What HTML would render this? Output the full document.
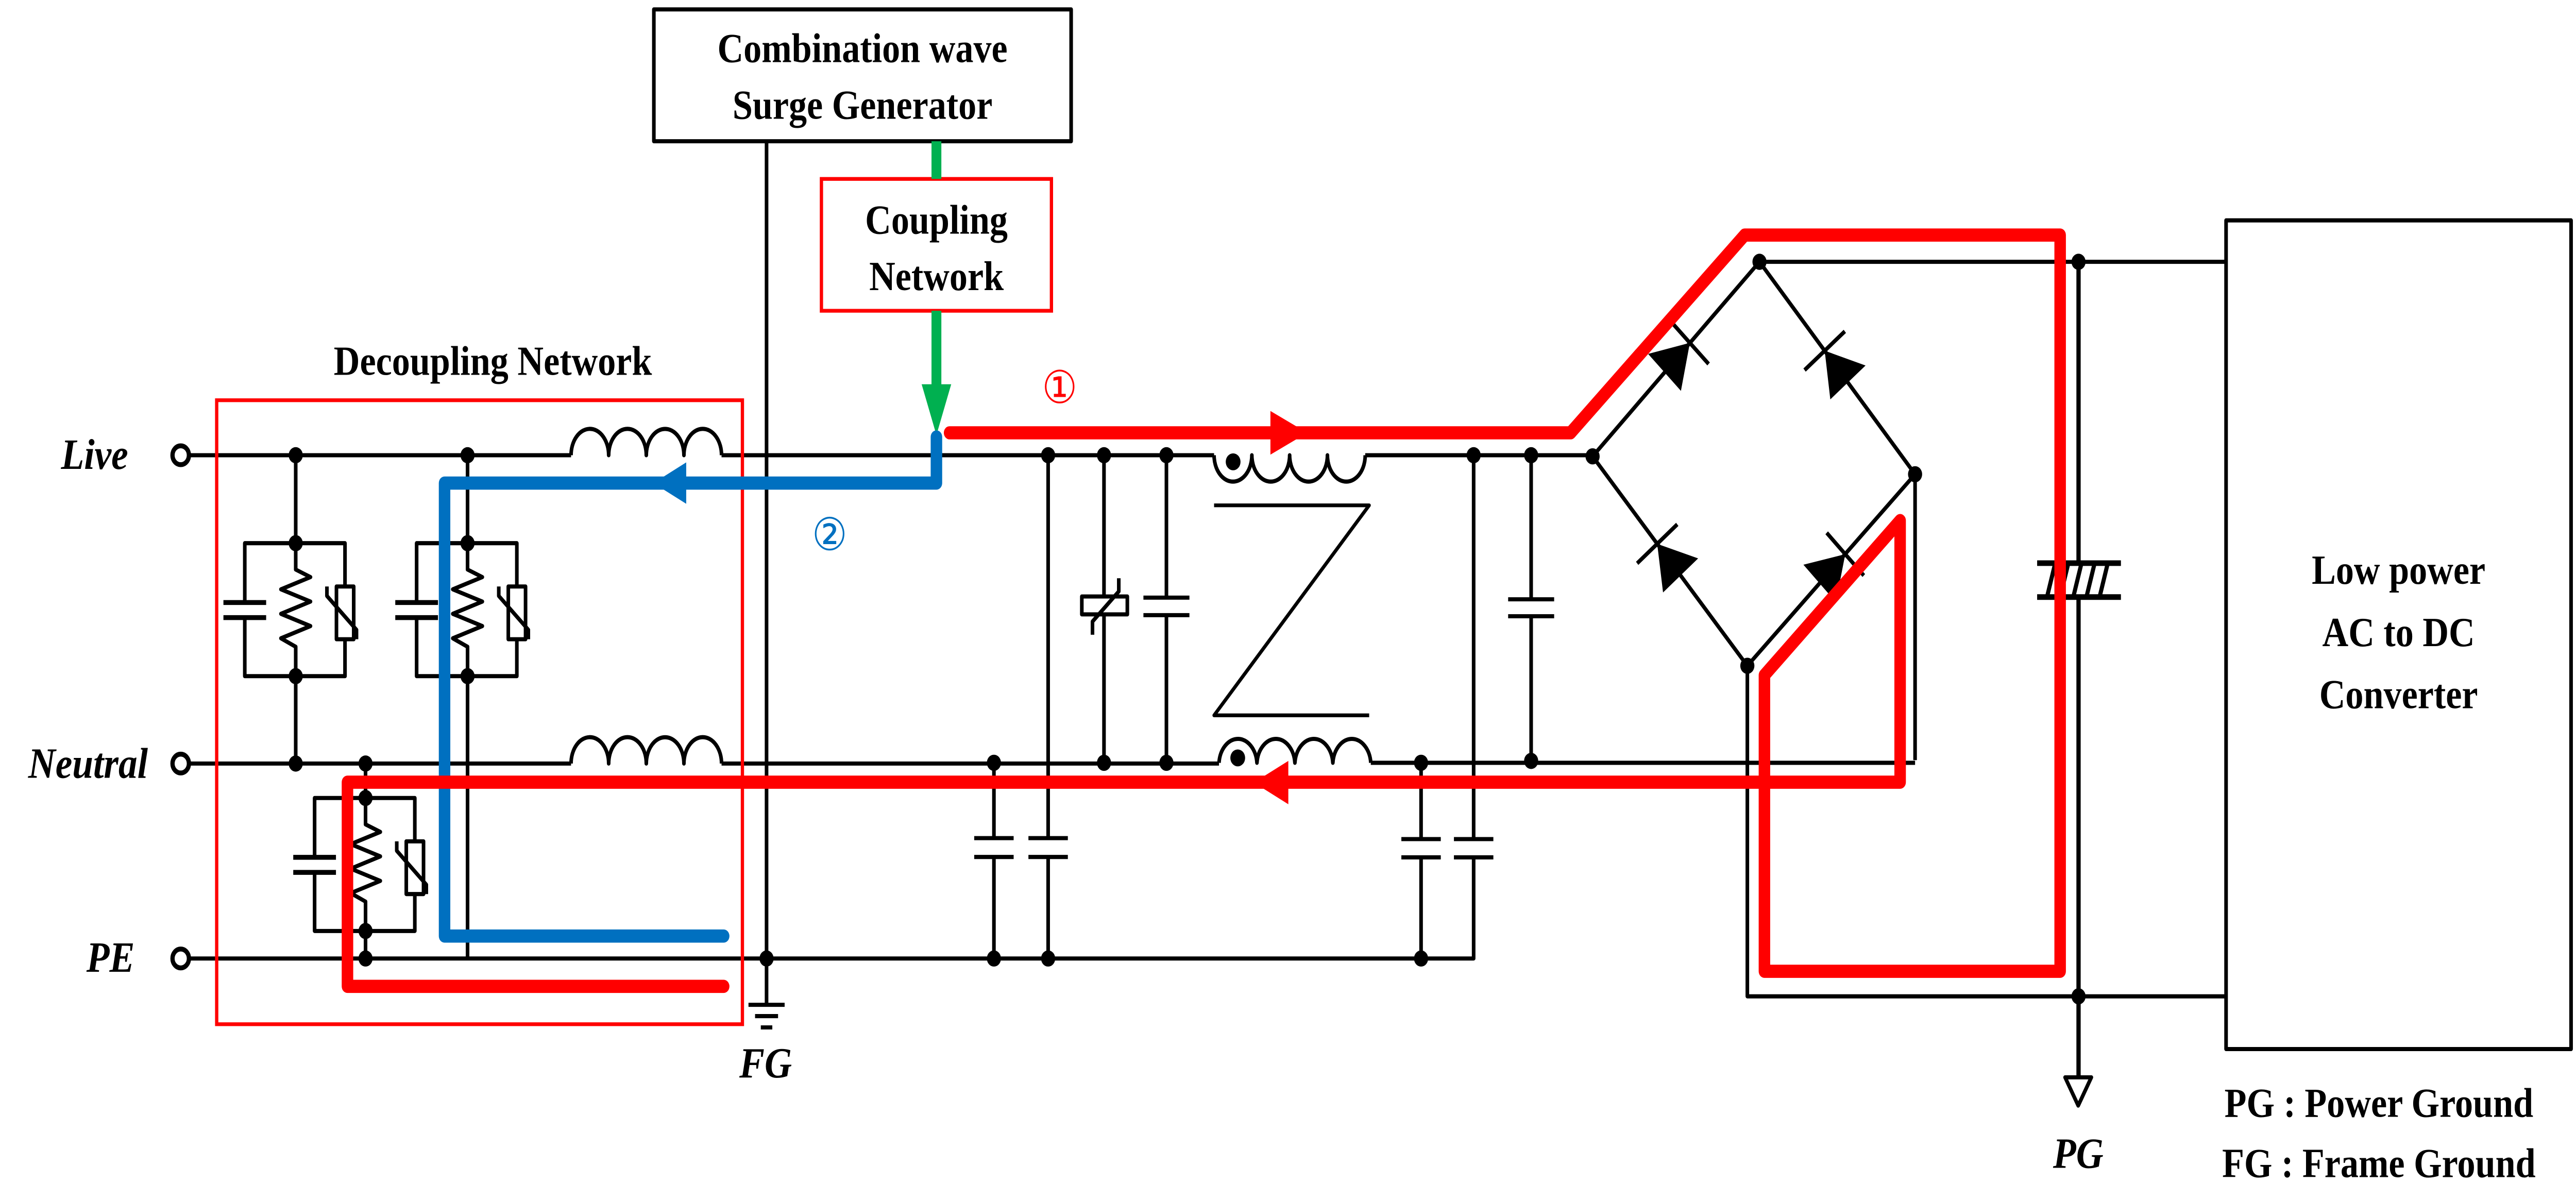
<!DOCTYPE html>
<html><head><meta charset="utf-8"><style>html,body{margin:0;padding:0;background:#fff;width:100%;height:100%;overflow:hidden}svg{display:block;width:100vw;height:100vh}</style></head>
<body>
<svg viewBox="0 0 1568 636.6" preserveAspectRatio="none" xmlns="http://www.w3.org/2000/svg">
<defs>
<g id="rc" fill="none" stroke="#000" stroke-width="2.2" stroke-linejoin="round">
<path d="M0,0 V14 L9,18 L-9,24.5 L9,31 L-9,37.5 L9,44 L-9,50.5 L0,55 V70.6"/>
<path d="M-31,31.5 V0 H30 V23 M30,51 V70.6 H-31 V39.5"/>
<path d="M-44,31.5 H-18 M-44,39.5 H-18" stroke-width="2.6"/>
<rect x="24.8" y="23" width="10.5" height="28"/>
<path d="M19,23 v5 L37,46 v5"/>
<circle cx="0" cy="0" r="4.3" fill="#000" stroke="none"/>
<circle cx="0" cy="70.6" r="4.3" fill="#000" stroke="none"/>
</g>
<g id="diode"><polygon points="-10,-14 -10,14 12,0" fill="#000"/><line x1="12" y1="-16" x2="12" y2="16" stroke="#000" stroke-width="2.2"/></g>
</defs>
<rect width="1568" height="636.6" fill="#fff"/>

<g fill="none" stroke="#000" stroke-width="2.2" stroke-linejoin="round">
<path d="M115,241.7 H347.6 M439.2,241.7 H739 M831,241.7 H969.4"/>
<path d="M347.6,241.7 a11.45,14 0 0 1 22.9,0 a11.45,14 0 0 1 22.9,0 a11.45,14 0 0 1 22.9,0 a11.45,14 0 0 1 22.9,0"/>
<path d="M115,405.4 H347.6 M439.2,405.4 H742 M834.4,405 H1165.7"/>
<path d="M347.6,405.4 a11.45,14 0 0 1 22.9,0 a11.45,14 0 0 1 22.9,0 a11.45,14 0 0 1 22.9,0 a11.45,14 0 0 1 22.9,0"/>
<path d="M115,508.9 H897 V455.2"/>
<path d="M739,241.7 a11.5,14 0 0 0 23,0 a11.5,14 0 0 0 23,0 a11.5,14 0 0 0 23,0 a11.5,14 0 0 0 23,0"/>
<path d="M742,405 a11.6,14 0 0 1 23.1,0 a11.6,14 0 0 1 23.1,0 a11.6,14 0 0 1 23.1,0 a11.6,14 0 0 1 23.1,0"/>
<path d="M739,268.3 H833.4 L739,379.8 H833.4" stroke-width="2"/>
<path d="M180,241.7 V288.4 M180,359 V405.4 M284.6,241.7 V288.4 M284.6,359 V508.9 M222.5,405.4 V424 M222.5,494.3 V508.9"/>
<path d="M605,405 V445 M605,455 V509 M593,445 H617 M593,455 H617"/>
<path d="M638,242 V445 M638,455 V509 M626,445 H650 M626,455 H650"/>
<path d="M672,242 V316.7 M672,326.2 V405"/>
<rect x="658.5" y="316.7" width="27.7" height="9.5"/>
<path d="M665,337 v-7 L681,314 v-7"/>
<path d="M710,242 V317.3 M710,326.6 V405 M696,317.3 H724 M696,326.6 H724"/>
<path d="M865,405 V445.5 M865,455.2 V509 M853,445.5 H877 M853,455.2 H877"/>
<path d="M897,242 V445.5 M885,445.5 H909 M885,455.2 H909"/>
<path d="M932,242 V318.2 M932,327.2 V404 M918,318.2 H946 M918,327.2 H946"/>
<path d="M969.4,242.3 L1071,139 L1165.7,251.8 L1063.6,353.5 Z"/>
<path d="M1165.7,251.8 V403.6 M1063.6,353.5 V529 H1355 M1071,139 H1355"/>
<path d="M1265.2,139 V299 M1265.2,317 V572" stroke-width="2.6"/>
<path d="M1240,299 H1291 M1240,317 H1291" stroke-width="3"/>
<path d="M1246,317 L1251,299 M1254,317 L1259,299 M1262,317 L1267,299 M1270,317 L1275,299 M1278,317 L1283,299" stroke-width="2.5"/>
<path d="M1257,572 H1273 L1265,587 Z"/>
<path d="M466.6,75 V533.5 M455.6,533.5 H477.6 M459.6,539.5 H473.6 M463.1,545.5 H470.1"/>
<rect x="398" y="5" width="254" height="70"/>
<rect x="1355" y="117" width="210" height="440"/>
</g>
<g fill="#000">
<circle cx="180" cy="241.7" r="4.3"/><circle cx="284.6" cy="241.7" r="4.3"/><circle cx="638" cy="241.7" r="4.3"/><circle cx="672" cy="241.7" r="4.3"/><circle cx="710" cy="241.7" r="4.3"/><circle cx="897" cy="241.7" r="4.3"/><circle cx="932" cy="241.7" r="4.3"/><circle cx="969.4" cy="242.3" r="4.3"/>
<circle cx="180" cy="405.4" r="4.3"/><circle cx="222.5" cy="405.4" r="4.3"/><circle cx="605" cy="405" r="4.3"/><circle cx="672" cy="405" r="4.3"/><circle cx="710" cy="405" r="4.3"/><circle cx="865" cy="405" r="4.3"/><circle cx="932" cy="404" r="4.3"/>
<circle cx="222.5" cy="508.9" r="4.3"/><circle cx="466.6" cy="508.9" r="4.3"/><circle cx="605" cy="508.9" r="4.3"/><circle cx="638" cy="508.9" r="4.3"/><circle cx="865" cy="508.9" r="4.3"/>
<circle cx="1071" cy="139" r="4.3"/><circle cx="1165.7" cy="251.8" r="4.3"/><circle cx="1063.6" cy="353.5" r="4.3"/><circle cx="1265.2" cy="139" r="4.3"/><circle cx="1265.2" cy="529" r="4.3"/>
<circle cx="750.6" cy="245.2" r="4.5"/><circle cx="753.4" cy="402.4" r="4.5"/>
</g>
<use href="#rc" transform="translate(180,288.4)"/>
<use href="#rc" transform="translate(284.6,288.4)"/>
<use href="#rc" transform="translate(222.5,423.7)"/>
<use href="#diode" transform="translate(1020.2,190.6) rotate(-45.5)"/>
<use href="#diode" transform="translate(1118.4,195.4) rotate(-130)"/>
<use href="#diode" transform="translate(1016.5,297.9) rotate(-130.3)"/>
<use href="#diode" transform="translate(1114.7,302.7) rotate(-44.9)"/>

<g fill="#fff" stroke="#000" stroke-width="2.6">
<circle cx="110" cy="241.7" r="5"/><circle cx="110" cy="405.4" r="5"/><circle cx="110" cy="508.9" r="5"/>
</g>

<rect x="131.9" y="212.5" width="320" height="331.3" fill="none" stroke="#f00" stroke-width="2"/>
<rect x="500" y="95" width="140" height="70" fill="#fff" stroke="#f00" stroke-width="2"/>

<path d="M570,75 V95 M570,165 V208" stroke="#00b050" stroke-width="6" fill="none"/>
<polygon points="561,204 579,204 570,231" fill="#00b050"/>

<path d="M570,232 V256.5 H270.6 V497 H440.5" fill="none" stroke="#0070c0" stroke-width="7" stroke-linejoin="round" stroke-linecap="round"/>
<polygon points="397.7,256.5 417.7,245.5 417.7,267.5" fill="#0070c0"/>

<path d="M578,229.8 H956 L1062,124.8 H1254 V515.7 H1074 V358.5 L1156.6,276.4 V415.3 H211.5 V523.7 H440.5" fill="none" stroke="#f00" stroke-width="7" stroke-linejoin="round" stroke-linecap="round"/>
<polygon points="795.7,229.8 773.3,218.2 773.3,241.4" fill="#f00"/>
<polygon points="763.2,415.5 784.2,404 784.2,427" fill="#f00"/>

<g font-family="Liberation Serif, serif" font-weight="bold" font-size="22" fill="#000" text-anchor="middle">
<text x="525" y="33">Combination wave</text>
<text x="525" y="63">Surge Generator</text>
<text x="570" y="124">Coupling</text>
<text x="570" y="154">Network</text>
<text x="300" y="199">Decoupling Network</text>
<text x="1460" y="310">Low power</text>
<text x="1460" y="343">AC to DC</text>
<text x="1460" y="376">Converter</text>
<text x="1448" y="593">PG : Power Ground</text>
<text x="1448" y="625">FG : Frame Ground</text>
</g>
<g font-family="Liberation Serif, serif" font-weight="bold" font-style="italic" font-size="23" fill="#000" text-anchor="end">
<text x="78" y="249">Live</text>
<text x="90" y="413">Neutral</text>
<text x="82" y="516">PE</text>
</g>
<g font-family="Liberation Serif, serif" font-weight="bold" font-style="italic" font-size="23" fill="#000" text-anchor="middle">
<text x="466" y="572">FG</text>
<text x="1265" y="620">PG</text>
</g>
<text x="645" y="214" font-family="DejaVu Sans, sans-serif" font-size="24" fill="#f00" text-anchor="middle">①</text>
<text x="505" y="292" font-family="DejaVu Sans, sans-serif" font-size="24" fill="#0070c0" text-anchor="middle">②</text>
</svg>
</body></html>
